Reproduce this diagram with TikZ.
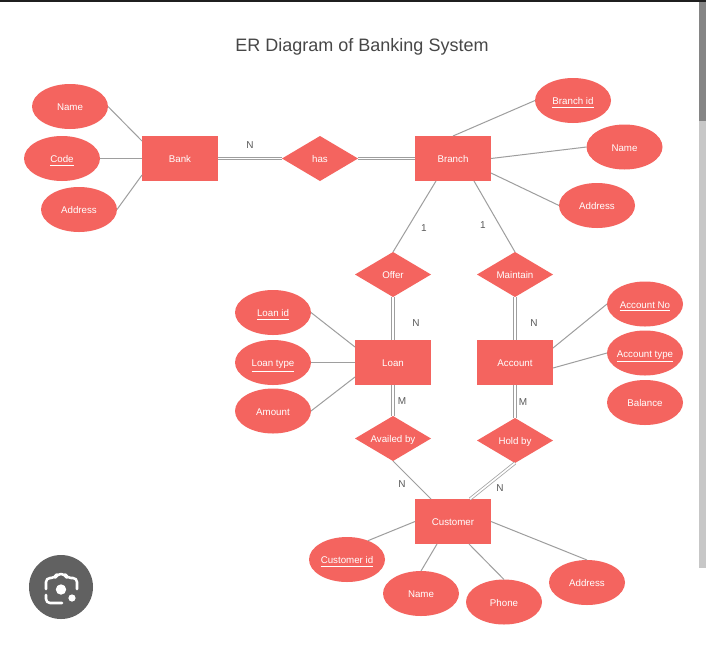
\documentclass[tikz,border=0pt]{standalone}
\usepackage{fontspec}
\setmainfont{Liberation Sans}
\usetikzlibrary{shapes.geometric,calc}
\definecolor{erfill}{HTML}{F4645F}
\definecolor{erline}{HTML}{9E9E9E}
\definecolor{lbl}{HTML}{5A5A5A}
\newcommand{\keyattr}[1]{\smash{\underline{#1}}}
\tikzset{
  x=0.75pt,y=-0.75pt,
  erbase/.style={fill=erfill,text=white,inner sep=0pt,outer sep=0pt,font=\fontsize{7.3}{9}\selectfont,text height=6.6pt,text depth=0pt,minimum width=57pt,minimum height=33.75pt},
  entity/.style={erbase,rectangle},
  attr/.style={erbase,ellipse,inner xsep=-8pt,inner ysep=-4pt},
  rel/.style={erbase,diamond,aspect=1.69,inner xsep=-8pt,inner ysep=-4pt},
  link/.style={draw=erline,line width=0.75pt},
  dbl/.style={draw=erline,line width=0.55pt,double=white,double distance=1.3pt},
  card/.style={text=lbl,inner sep=0pt,font=\fontsize{7.5}{9}\selectfont},
  icon/.style={draw=white,line width=1.9pt,line join=round,line cap=round,rounded corners=3pt}
}
\begin{document}
\begin{tikzpicture}
\useasboundingbox (0,0) rectangle (706,647);
\fill[white] (0,0) rectangle (706,647);
\fill[black!88] (0,0) rectangle (706,2);
\fill[black!22] (699,2) rectangle (706,568);
\fill[black!48] (699,2) rectangle (706,121);
\node[text=black!72,inner sep=0pt,font=\fontsize{13.5}{16}\selectfont] (title) at (362,46.5) {ER Diagram of Banking System};
% entities
\node[entity] (bank) at (180,158.5) {Bank};
\node[entity] (branch) at (453,158.5) {Branch};
\node[entity] (loan) at (393,362.5) {Loan};
\node[entity] (account) at (515,362.5) {Account};
\node[entity] (customer) at (453,521.5) {Customer};
% relationships
\node[rel] (has) at (320,158.5) {has};
\node[rel] (offer) at (393,274.5) {Offer};
\node[rel] (maintain) at (515,274.5) {Maintain};
\node[rel] (availed) at (393,438.5) {Availed by};
\node[rel] (hold) at (515,440.5) {Hold by};
% attributes
\node[attr] (bname) at (70,106.5) {Name};
\node[attr] (bcode) at (62,158.5) {\keyattr{Code}};
\node[attr] (baddr) at (79,209.5) {Address};
\node[attr] (brid) at (573,100.5) {\keyattr{Branch id}};
\node[attr] (brname) at (624.5,147) {Name};
\node[attr] (braddr) at (597,205.5) {Address};
\node[attr] (lid) at (273,312.5) {\keyattr{Loan id}};
\node[attr] (ltype) at (273,362.5) {\keyattr{Loan type}};
\node[attr] (lamt) at (273,411) {Amount};
\node[attr] (ano) at (645,304) {\keyattr{Account No}};
\node[attr] (atype) at (645,353) {\keyattr{Account type}};
\node[attr] (abal) at (645,402.5) {Balance};
\node[attr] (cid) at (347,559.5) {\keyattr{Customer id}};
\node[attr] (cname) at (421,593.5) {Name};
\node[attr] (cphone) at (504,602) {Phone};
\node[attr] (caddr) at (587,582.5) {Address};
% connectors
\draw[link] (bname.east) -- ($(bank.north west)+(0,5)$);
\draw[link] (bcode.east) -- (bank.west);
\draw[link] (baddr.east) -- ($(bank.south west)+(0,-6)$);
\draw[dbl] (bank.east) -- (has.west);
\draw[dbl] (has.east) -- (branch.west);
\draw[link] (branch.north) -- (brid.west);
\draw[link] (branch.east) -- (brname.west);
\draw[link] ($(branch.south east)+(0,-8)$) -- (braddr.west);
\draw[link] ($(branch.south)+(-17,0)$) -- (offer.north);
\draw[link] ($(branch.south)+(21,0)$) -- (maintain.north);
\draw[dbl] (offer.south) -- (loan.north);
\draw[dbl] (maintain.south) -- (account.north);
\draw[dbl] (loan.south) -- (availed.north);
\draw[dbl] (account.south) -- (hold.north);
\draw[link] (availed.south) -- ($(customer.north)+(-22,0)$);
\draw[dbl] (hold.south) -- ($(customer.north)+(17,0)$);
\draw[link] (lid.east) -- ($(loan.north west)+(0,7)$);
\draw[link] (ltype.east) -- (loan.west);
\draw[link] (lamt.east) -- ($(loan.south west)+(0,-8)$);
\draw[link] ($(account.north east)+(0,8)$) -- (ano.west);
\draw[link] ($(account.south east)+(0,-17)$) -- (atype.west);
\draw[link] (customer.west) -- (cid.42);
\draw[link] ($(customer.south)+(-16,0)$) -- (cname.north);
\draw[link] ($(customer.south)+(16,0)$) -- (cphone.north);
\draw[link] (customer.east) -- (caddr.north);
% cardinalities
\node[card] (c1) at (250,145) {N};
\node[card] (c2) at (424,228) {1};
\node[card] (c3) at (483,225) {1};
\node[card] (c4) at (416,323) {N};
\node[card] (c5) at (534,323) {N};
\node[card] (c6) at (402,401) {M};
\node[card] (c7) at (523,402) {M};
\node[card] (c8) at (402,484) {N};
\node[card] (c9) at (500,488) {N};
% lens button
\fill[black!62] (61,587) circle[radius=32];
\draw[icon] (46,589) -- (46,578) -- (55,578) -- (57,574) -- (65,574) -- (67,578) -- (77,578) -- (77,589);
\draw[icon] (46,595) -- (46,603) -- (62,603);
\fill[white] (61,589.5) circle[radius=5.2];
\fill[white] (72,598) circle[radius=3.6];
\end{tikzpicture}
\end{document}
